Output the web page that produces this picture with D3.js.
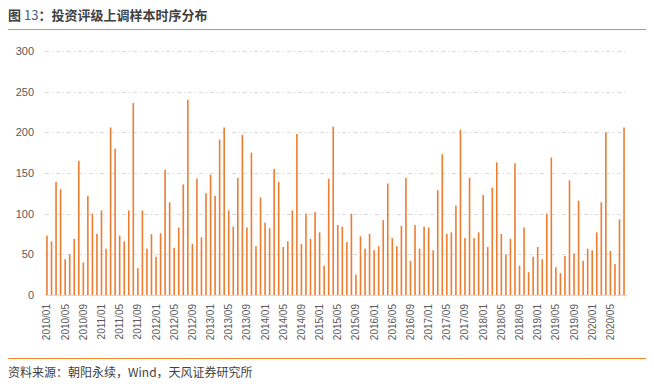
<!DOCTYPE html>
<html>
<head>
<meta charset="utf-8">
<script src="https://cdn.jsdelivr.net/npm/d3@7"></script>
<style>
  html, body { margin: 0; padding: 0; background: #fff; }
  svg { display: block; font-family: "Noto Sans CJK SC", "Noto Sans", sans-serif; }
</style>
</head>
<body>
<svg id="chart" width="654" height="391"></svg>
<script>
// ---- data ----
const startYear = 2010;
const monthCount = 128; // 2010/01 .. 2020/08
const categories = [];
for (let i = 0; i < monthCount; i++) {
  const y = startYear + Math.floor(i / 12);
  const m = (i % 12) + 1;
  categories.push(y + "/" + (m < 10 ? "0" + m : m));
}
const values2010 = [73, 66, 139, 130, 44, 50, 69, 165, 40, 122, 100, 75];
const values2011 = [104, 57, 206, 180, 73, 66, 104, 236, 33, 104, 57, 75];
const values2012 = [47, 76, 154, 114, 58, 83, 136, 240, 63, 143, 71, 125];
const values2013 = [148, 122, 191, 206, 104, 84, 144, 197, 83, 175, 60, 120];
const values2014 = [89, 82, 155, 139, 59, 66, 104, 198, 63, 100, 69, 102];
const values2015 = [77, 36, 143, 207, 86, 84, 65, 100, 25, 72, 57, 75];
const values2016 = [55, 60, 92, 137, 70, 60, 85, 144, 42, 86, 57, 84];
const values2017 = [83, 55, 129, 173, 75, 77, 110, 203, 70, 144, 70, 77];
const values2018 = [123, 59, 132, 163, 75, 50, 69, 162, 36, 83, 28, 47];
const values2019 = [59, 44, 100, 169, 34, 27, 48, 141, 51, 116, 42, 57];
const values2020 = [55, 77, 114, 200, 54, 38, 93, 206];
const values = [].concat(values2010, values2011, values2012, values2013, values2014,
  values2015, values2016, values2017, values2018, values2019, values2020);
const yTicks = [0, 50, 100, 150, 200, 250, 300];
const xTickLabels = categories.filter((d, i) => i % 4 === 0);

const title = "投资评级上调样本时序分布";
const source = "资料来源：朝阳永续，Wind，天风证券研究所";

// ---- drawing ----
const svg = d3.select("#chart");
const orange = "#ED7D31";

// title
const t = svg.append("text").attr("x", 8).attr("y", 20)
  .attr("font-size", 13).attr("fill", "#3F3F3F");
t.append("tspan").attr("font-weight", "bold").text("图 ");
t.append("tspan").attr("font-weight", "normal").attr("fill", "#4A5A78").text("13");
t.append("tspan").attr("font-weight", "bold").text("：" + title);

svg.append("line").attr("x1", 8).attr("x2", 646).attr("y1", 29.5).attr("y2", 29.5)
  .attr("stroke", "#F0882A").attr("stroke-width", 1.2);
svg.append("line").attr("x1", 8).attr("x2", 646).attr("y1", 358.5).attr("y2", 358.5)
  .attr("stroke", "#F0882A").attr("stroke-width", 1.2);

svg.append("text").attr("x", 8).attr("y", 377).attr("font-size", 12)
  .attr("fill", "#3F3F3F").text(source);

const x = d3.scaleBand().domain(categories).range([44.7, 626.3]).padding(0);
const y = d3.scaleLinear().domain([0, 300]).range([295, 51]);

// grid
svg.append("g").selectAll("line").data(yTicks.filter(d => d > 0)).join("line")
  .attr("x1", 45).attr("x2", 627)
  .attr("y1", d => Math.round(y(d)) + 0.5).attr("y2", d => Math.round(y(d)) + 0.5)
  .attr("stroke", "#D9D9D9").attr("stroke-width", 1)
  .attr("stroke-dasharray", "4,3,1,3");

// y axis labels
const yAxis = d3.axisLeft(y).tickValues(yTicks).tickSize(0).tickPadding(0);
const gy = svg.append("g").attr("transform", "translate(34,0)").call(yAxis);
gy.select(".domain").remove();
gy.selectAll("text").attr("font-size", 11).attr("fill", "#595959")
  .attr("font-family", "Liberation Sans, Arial, sans-serif");

// bars
const bw = 1.6;
svg.append("g").selectAll("rect").data(values).join("rect")
  .attr("x", (d, i) => x(categories[i]) + x.bandwidth() / 2 - bw / 2)
  .attr("width", bw)
  .attr("y", d => y(d))
  .attr("height", d => y(0) - y(d))
  .attr("fill", orange);

// x axis
const xAxis = d3.axisBottom(x).tickValues(xTickLabels).tickSize(0).tickPadding(0);
const gx = svg.append("g").attr("transform", "translate(0,295)").call(xAxis);
gx.select(".domain").attr("stroke", "#D9D9D9").attr("d", "M45,0.5H627");
gx.selectAll("text")
  .attr("font-size", 10).attr("fill", "#595959")
  .attr("font-family", "Liberation Sans, Arial, sans-serif")
  .attr("transform", "rotate(-90)")
  .attr("text-anchor", "end")
  .attr("dy", "0.35em")
  .attr("x", -9).attr("y", 0);
</script>
</body>
</html>
